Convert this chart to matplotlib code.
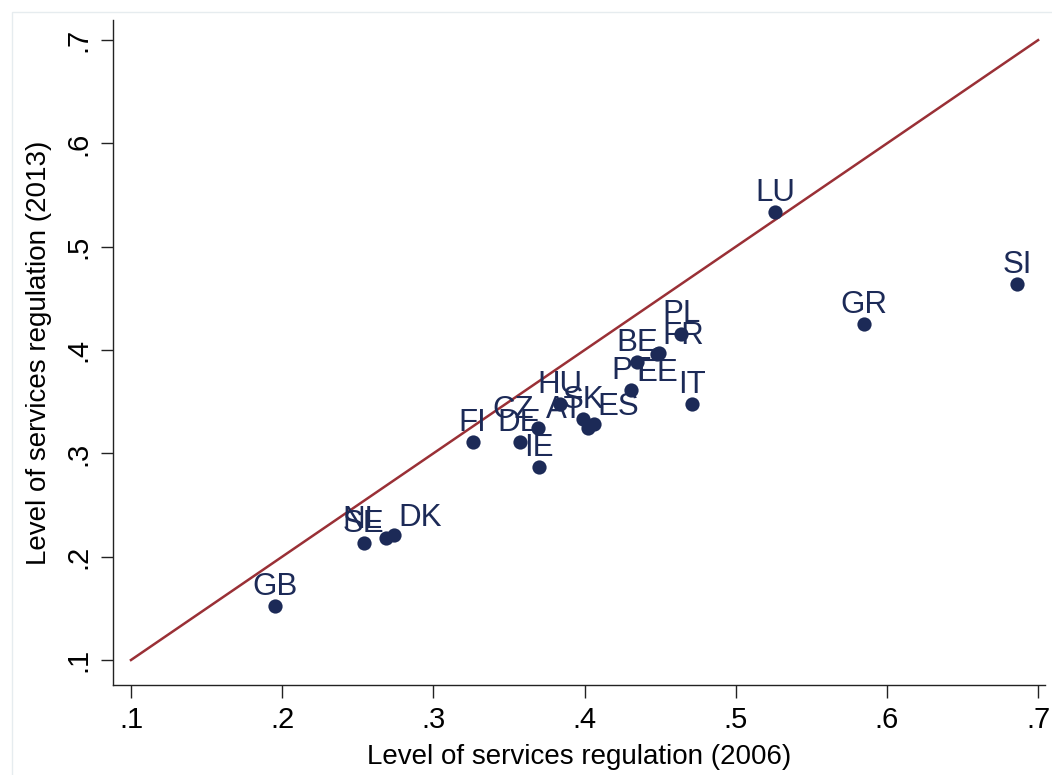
import matplotlib.pyplot as plt
from matplotlib.patches import Rectangle

# services regulation index, 2006 vs 2013
countries = ['GB', 'SE', 'NL', 'DK', 'FI', 'DE', 'CZ', 'IE', 'HU', 'SK', 'AT',
             'ES', 'PT', 'BE', 'EE', 'FR', 'PL', 'IT', 'LU', 'GR', 'SI']
reg_2006 = [0.195, 0.254, 0.269, 0.274, 0.326, 0.357, 0.369, 0.370, 0.384, 0.399, 0.402,
            0.406, 0.431, 0.435, 0.448, 0.449, 0.464, 0.471, 0.526, 0.585, 0.686]
reg_2013 = [0.152, 0.213, 0.218, 0.221, 0.311, 0.311, 0.325, 0.287, 0.348, 0.333, 0.325,
            0.328, 0.361, 0.388, 0.396, 0.397, 0.416, 0.348, 0.534, 0.425, 0.464]
ticks = [0.1, 0.2, 0.3, 0.4, 0.5, 0.6, 0.7]
tick_labels = ['.1', '.2', '.3', '.4', '.5', '.6', '.7']

# label placement (clock positions, like mlabvpos)
label_pos = {'NL': 11, 'CZ': 11, 'AT': 11, 'DK': 1, 'ES': 1, 'FR': 1, 'EE': 6}
# offset in points (dx, dy) and horizontal alignment for each clock position
clock = {12: (0, 8, 'center'), 11: (-3, 7, 'right'), 1: (3, 6.5, 'left'),
         6: (0, -19, 'center')}

navy = '#1c2a57'
maroon = '#9a3036'
narrow = ['Liberation Sans Narrow', 'Liberation Sans']

fig = plt.figure(figsize=(10.52, 7.75), dpi=100)
ax = fig.add_axes([0.1074, 0.1161, 0.886, 0.858])

# 45 degree line
ax.plot([ticks[0], ticks[-1]], [ticks[0], ticks[-1]], color=maroon, lw=1.8, zorder=1)
ax.scatter(reg_2006, reg_2013, s=105, color=navy, zorder=2, linewidths=0)

for c, x, y in zip(countries, reg_2006, reg_2013):
    dx, dy, ha = clock[label_pos.get(c, 12)]
    ax.annotate(c, (x, y), xytext=(dx, dy), textcoords='offset points',
                ha=ha, va='baseline', fontsize=22.5, color=navy,
                family='Liberation Sans', zorder=3)

ax.set_xlim(0.0881, 0.7046)
ax.set_ylim(0.0758, 0.7194)
ax.set_xticks(ticks)
ax.set_xticklabels(tick_labels)
ax.set_yticks(ticks)
ax.set_yticklabels(tick_labels, rotation=90, va='center')
ax.tick_params(length=9, width=1, color='#222222', labelsize=21, pad=6)
for lab in ax.get_xticklabels() + ax.get_yticklabels():
    lab.set_family(narrow)

ax.spines['top'].set_visible(False)
ax.spines['right'].set_visible(False)
for s in ('left', 'bottom'):
    ax.spines[s].set_color('#222222')
    ax.spines[s].set_linewidth(1)

ax.set_xlabel('Level of services regulation (2006)', fontsize=20, labelpad=7,
              family=narrow)
ax.set_ylabel('Level of services regulation (2013)', fontsize=20, labelpad=9,
              family=narrow)

# faint outer frame of the graph region
fig.patches.append(Rectangle((12 / 1052, -0.1), 1.1, 1.1 - 12 / 775,
                             transform=fig.transFigure, fill=False,
                             edgecolor='#e6ecef', lw=1))

fig.savefig('out.png', dpi=100)
